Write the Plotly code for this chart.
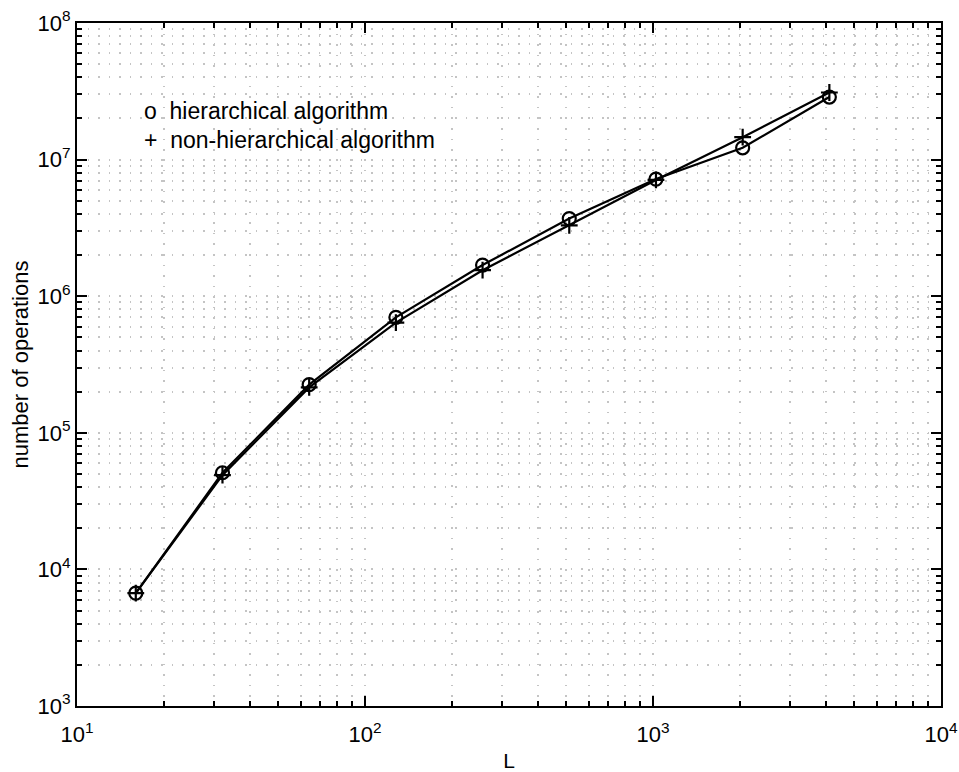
import plotly.graph_objects as go

L = [16, 32, 64, 128, 256, 512, 1024, 2048, 4096]
hier_ops = [6.7e3, 5.1e4, 2.25e5, 7.0e5, 1.69e6, 3.7e6, 7.2e6, 1.22e7, 2.87e7]
nonhier_ops = [6.7e3, 4.9e4, 2.15e5, 6.4e5, 1.55e6, 3.3e6, 7.1e6, 1.46e7, 3.1e7]
x_decades = [1, 2, 3, 4]
y_decades = [3, 4, 5, 6, 7, 8]
minor_mult = [2, 3, 4, 5, 6, 7, 8, 9]
legend_labels = ["o  hierarchical algorithm", "+  non-hierarchical algorithm"]

x_tickvals = [10 ** d for d in x_decades]
x_ticktext = ["10<sup>%d</sup>" % d for d in x_decades]
y_tickvals = [10 ** d for d in y_decades]
y_ticktext = ["10<sup>%d</sup>" % d for d in y_decades]
x_minor = [m * 10 ** d for d in x_decades[:-1] for m in minor_mult]
y_minor = [m * 10 ** d for d in y_decades[:-1] for m in minor_mult]

fig = go.Figure()
fig.add_trace(go.Scatter(x=L, y=hier_ops, mode="lines+markers",
                         line=dict(color="black", width=2.2),
                         marker=dict(symbol="circle-open", size=13, color="black", line=dict(width=2.2)),
                         name="hierarchical algorithm"))
fig.add_trace(go.Scatter(x=L, y=nonhier_ops, mode="lines+markers",
                         line=dict(color="black", width=2.2),
                         marker=dict(symbol="cross-thin-open", size=12, color="black", line=dict(width=2.2)),
                         name="non-hierarchical algorithm"))

fnt = "Liberation Sans, Arial, sans-serif"
leg_y = [0.871, 0.828]
for t, yy in zip(legend_labels, leg_y):
    fig.add_annotation(x=0.075, y=yy, xref="paper", yref="paper",
                       text=t, showarrow=False, xanchor="left", yanchor="middle",
                       font=dict(family=fnt, size=23, color="black"))

grid_col = "#c4c4c4"
gdash = "1.5px,9px"
axis_common = dict(type="log", showline=True, linecolor="black", linewidth=2, mirror="allticks",
                   ticks="inside", ticklen=10, tickwidth=2, tickcolor="black",
                   showgrid=True, gridcolor=grid_col, griddash=gdash, gridwidth=1.5,
                   zeroline=False, ticklabeloverflow="allow", automargin=False,
                   tickfont=dict(family=fnt, size=22, color="black"),
                   )

fig.update_xaxes(range=[1, 4], tickvals=x_tickvals, ticktext=x_ticktext, ticklabelstandoff=8,
                 minor=dict(tickvals=x_minor, ticks="inside", ticklen=5, tickwidth=2, tickcolor="black",
                            showgrid=True, gridcolor=grid_col, griddash=gdash, gridwidth=1.5),
                 title=dict(text="L", font=dict(family=fnt, size=21, color="black"), standoff=7),
                 **axis_common)
fig.update_yaxes(range=[3, 8], tickvals=y_tickvals, ticktext=y_ticktext,
                 minor=dict(tickvals=y_minor, ticks="inside", ticklen=5, tickwidth=2, tickcolor="black",
                            showgrid=True, gridcolor=grid_col, griddash=gdash, gridwidth=1.5),
                 title=dict(text="number of operations", font=dict(family=fnt, size=22, color="black"), standoff=3),
                 **axis_common)

fig.update_layout(width=959, height=772, showlegend=False,
                  plot_bgcolor="white", paper_bgcolor="white",
                  margin=dict(l=77, r=18, t=23, b=66))
fig.write_html("out.html")
